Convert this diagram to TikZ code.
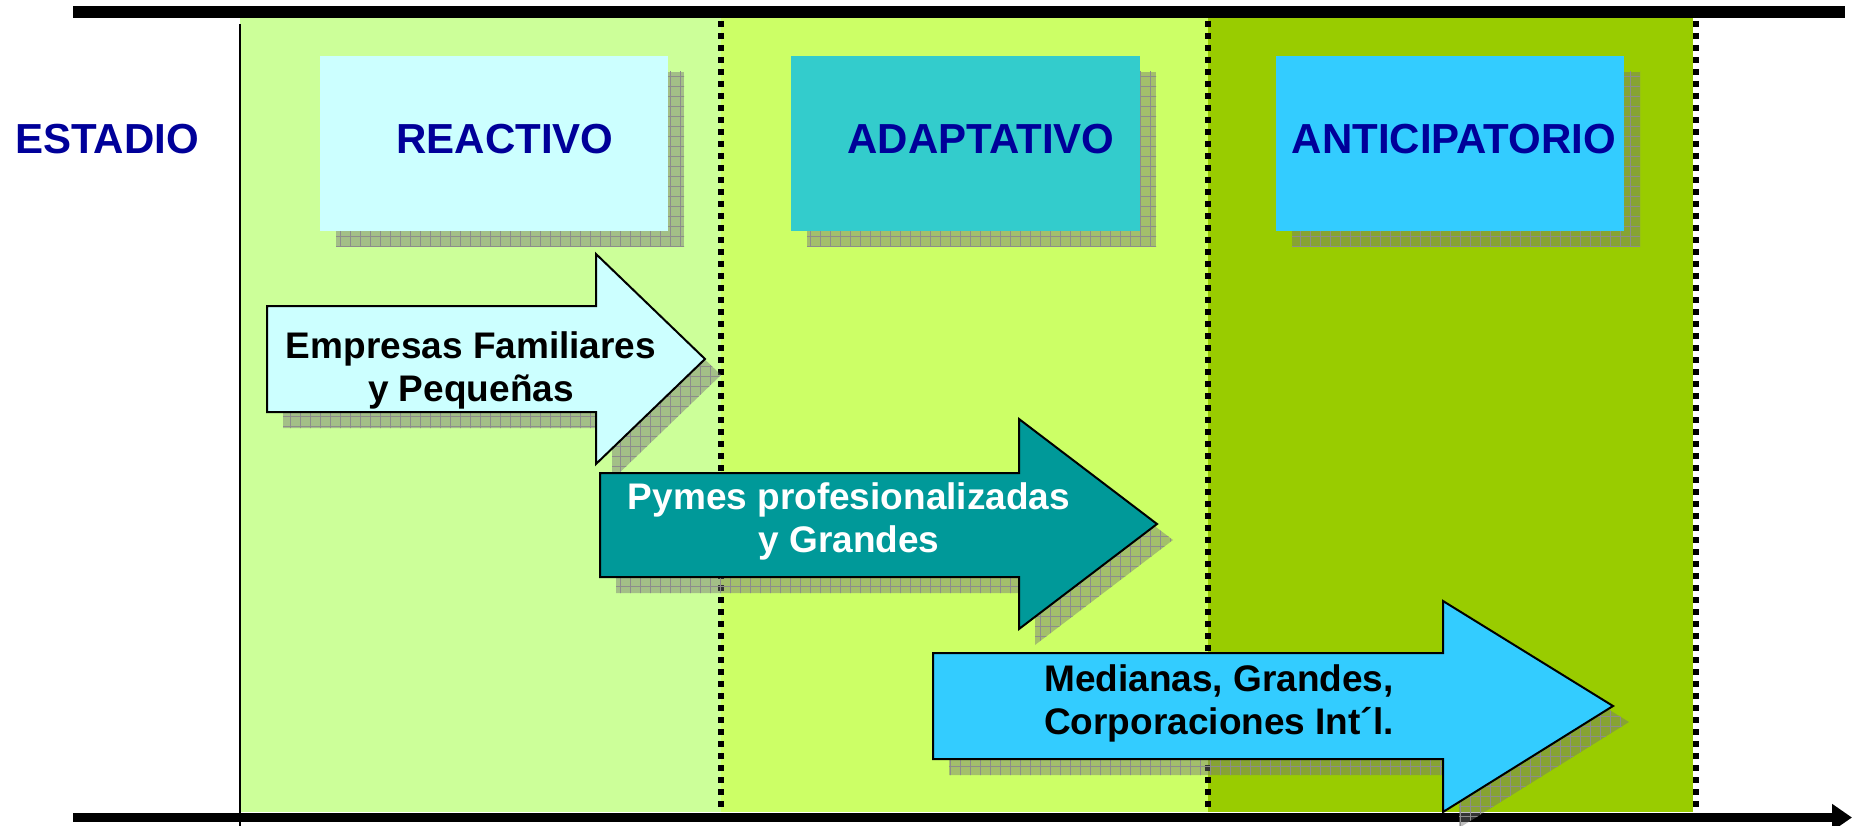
\documentclass[tikz,border=0pt]{standalone}
\usepackage{fontspec}
\setmainfont{Liberation Sans}
\usetikzlibrary{arrows.meta,patterns.meta}
\definecolor{bandA}{HTML}{CCFF99}
\definecolor{bandB}{HTML}{CCFF66}
\definecolor{bandC}{HTML}{99CC00}
\definecolor{titleblue}{HTML}{000099}
\definecolor{boxA}{HTML}{CCFFFF}
\definecolor{boxB}{HTML}{33CCCC}
\definecolor{boxC}{HTML}{33CCFF}
\definecolor{arrB}{HTML}{009999}
\tikzset{
  shadowfill/.style={fill=black!55, fill opacity=0.45},
  shadowgrid/.style={pattern={Hatch[angle=0,distance=10pt,line width=0.8pt]}, pattern color=black!45},
  sep/.style={line width=6pt, dash pattern=on 6pt off 6pt},
  stagetitle/.style={text=titleblue, font=\fontsize{42}{50}\selectfont\bfseries, anchor=base, inner sep=0pt},
  arrowtext/.style={font=\fontsize{37}{43}\selectfont\bfseries, align=center, inner sep=0pt},
  arrowshape/.style={draw=black, line width=2pt, line join=miter},
}
\begin{document}
\begin{tikzpicture}[x=1pt,y=-1pt]
\useasboundingbox (0,0) rectangle (1852,826);
% bands
\fill[bandA] (240,18) rectangle (721,812);
\fill[bandB] (721,18) rectangle (1208,812);
\fill[bandC] (1208,18) rectangle (1693,812);
% dotted separators
\draw[sep] (721,21) -- (721,812);
\draw[sep] (1208,21) -- (1208,812);
\draw[sep] (1696,21) -- (1696,812);
% axes
\fill[black] (73,6) rectangle (1845,18);
\draw[line width=1.6pt] (240,24) -- (240,826);
\coordinate (axs) at (73,817.5);
\coordinate (axe) at (1852,817.5);
\draw[line width=9pt, -{Triangle[length=20pt,width=26pt]}] (axs) -- (axe);
% label
\node[stagetitle] (estadio) at (107,154) {ESTADIO};
% box shadows
\foreach \xa/\xb in {320/668, 791/1140, 1276/1624}{
  \fill[shadowfill] (\xa+16,56+16) rectangle (\xb+16,231+16);
  \fill[shadowgrid] (\xa+16,56+16) rectangle (\xb+16,231+16);
}
% boxes
\fill[boxA] (320,56) rectangle (668,231);
\fill[boxB] (791,56) rectangle (1140,231);
\fill[boxC] (1276,56) rectangle (1624,231);
\node[stagetitle] (reactivo) at (505,154) {REACTIVO};
\node[stagetitle] (adaptativo) at (981,154) {ADAPTATIVO};
\node[stagetitle] (anticipatorio) at (1454,154) {ANTICIPATORIO};
% arrow 1
\begin{scope}[shift={(16,16)}]
\fill[shadowfill] (267,306) -- (596,306) -- (596,254) -- (705,359) -- (596,464) -- (596,412) -- (267,412) -- cycle;
\fill[shadowgrid] (267,306) -- (596,306) -- (596,254) -- (705,359) -- (596,464) -- (596,412) -- (267,412) -- cycle;
\end{scope}
\filldraw[arrowshape, fill=boxA] (267,306) -- (596,306) -- (596,254) -- (705,359) -- (596,464) -- (596,412) -- (267,412) -- cycle;
\node[arrowtext] (t1) at (471,370) {Empresas Familiares\\y Pequeñas};
% arrow 2
\begin{scope}[shift={(16,16)}]
\fill[shadowfill] (600,473) -- (1019,473) -- (1019,419) -- (1157,524) -- (1019,629) -- (1019,577) -- (600,577) -- cycle;
\fill[shadowgrid] (600,473) -- (1019,473) -- (1019,419) -- (1157,524) -- (1019,629) -- (1019,577) -- (600,577) -- cycle;
\end{scope}
\filldraw[arrowshape, fill=arrB] (600,473) -- (1019,473) -- (1019,419) -- (1157,524) -- (1019,629) -- (1019,577) -- (600,577) -- cycle;
\node[arrowtext, text=white] (t2) at (849,521) {Pymes profesionalizadas\\y Grandes};
% arrow 3
\begin{scope}[shift={(16,16)}]
\fill[shadowfill] (933,653) -- (1443,653) -- (1443,601) -- (1613,706) -- (1443,812) -- (1443,759) -- (933,759) -- cycle;
\fill[shadowgrid] (933,653) -- (1443,653) -- (1443,601) -- (1613,706) -- (1443,812) -- (1443,759) -- (933,759) -- cycle;
\end{scope}
\filldraw[arrowshape, fill=boxC] (933,653) -- (1443,653) -- (1443,601) -- (1613,706) -- (1443,812) -- (1443,759) -- (933,759) -- cycle;
\node[arrowtext] (t3) at (1219,703) {Medianas, Grandes,\\Corporaciones Int´l.};
\end{tikzpicture}
\end{document}
